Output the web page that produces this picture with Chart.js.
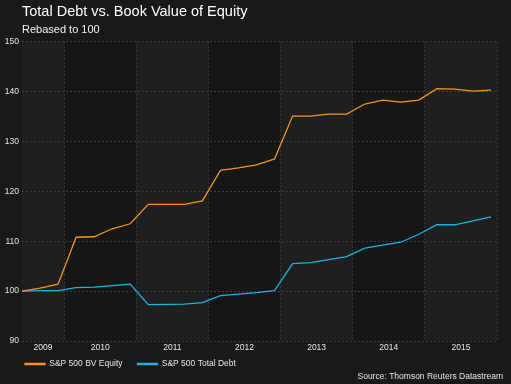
<!DOCTYPE html>
<html>
<head>
<meta charset="utf-8">
<script src="https://cdn.jsdelivr.net/npm/chart.js@4.4.1/dist/chart.umd.min.js"></script>
<style>
  html, body { margin: 0; padding: 0; background: #191919; }
  #wrap { width: 511px; height: 384px; }
</style>
</head>
<body>
<div id="wrap"><canvas id="myChart" width="511" height="384"></canvas></div>
<script>
// quarterly observations, Jun 2009 .. Dec 2015
const dates = [
  '2009-06', '2009-09', '2009-12',
  '2010-03', '2010-06', '2010-09', '2010-12',
  '2011-03', '2011-06', '2011-09', '2011-12',
  '2012-03', '2012-06', '2012-09', '2012-12',
  '2013-03', '2013-06', '2013-09', '2013-12',
  '2014-03', '2014-06', '2014-09', '2014-12',
  '2015-03', '2015-06', '2015-09', '2015-12'
];
const bvEquity = [
  100.0, 100.6, 101.4,
  110.8, 110.9, 112.5, 113.5,
  117.4, 117.4, 117.4, 118.1,
  124.2, 124.7, 125.3, 126.5,
  135.1, 135.1, 135.5, 135.5,
  137.5, 138.3, 137.9, 138.3,
  140.6, 140.5, 140.1, 140.3
];
const totalDebt = [
  100.0, 100.1, 100.1,
  100.7, 100.8, 101.1, 101.4,
  97.3, 97.35, 97.4, 97.7,
  99.1, 99.4, 99.7, 100.1,
  105.5, 105.7, 106.3, 106.9,
  108.6, 109.2, 109.8, 111.4,
  113.3, 113.3, 114.1, 114.9
];
const yearLabels = ['2009', '2010', '2011', '2012', '2013', '2014', '2015'];
const yTicks = [90, 100, 110, 120, 130, 140, 150];

const toYear = (d) => {
  const [y, m] = d.split('-').map(Number);
  return y + (m - 1) / 12;
};
const xs = dates.map(toYear);
const xMin = xs[0];
const xMax = 2016;

const FONT = 'Liberation Sans, Arial, sans-serif';
const ORANGE = '#f39519';
const BLUE = '#1bb4e2';

const bgPlugin = {
  id: 'bands',
  afterLayout(chart) {
    // legend sits right under the year labels
    chart.legend.left = 10;
    chart.legend.top = 344.75;
  },
  beforeDraw(chart) {
    const { ctx, chartArea } = chart;
    const xg = chart.scales.xg;
    ctx.save();
    ctx.fillStyle = '#191919';
    ctx.fillRect(0, 0, chart.width, chart.height);
    yearLabels.forEach((lab, i) => {
      const y0 = Math.max(Number(lab), xMin);
      const x0 = xg.getPixelForValue(y0);
      const x1 = xg.getPixelForValue(Number(lab) + 1);
      ctx.fillStyle = i % 2 === 0 ? '#1f1f1f' : '#161616';
      ctx.fillRect(x0, chartArea.top, x1 - x0, chartArea.bottom - chartArea.top);
    });
    ctx.restore();
  },
  afterDraw(chart) {
    const { ctx } = chart;
    ctx.save();
    ctx.font = '8.5px ' + FONT;
    ctx.fillStyle = '#e6e6e6';
    ctx.textAlign = 'right';
    ctx.textBaseline = 'middle';
    ctx.fillText('Source: Thomson Reuters Datastream', 503, 377);
    ctx.restore();
  }
};

new Chart(document.getElementById('myChart'), {
  type: 'line',
  data: {
    datasets: [{
      label: 'S&P 500 BV Equity',
      data: xs.map((x, i) => ({ x, y: bvEquity[i] })),
      borderColor: ORANGE,
      backgroundColor: ORANGE,
      borderWidth: 1.3,
      pointRadius: 0,
      tension: 0
    }, {
      label: 'S&P 500 Total Debt',
      data: xs.map((x, i) => ({ x, y: totalDebt[i] })),
      borderColor: BLUE,
      backgroundColor: BLUE,
      borderWidth: 1.3,
      pointRadius: 0,
      tension: 0
    }]
  },
  options: {
    responsive: false,
    animation: false,
    devicePixelRatio: 1,
    layout: { padding: { left: 0, right: 14, top: 0, bottom: 10 } },
    plugins: {
      title: {
        display: true,
        text: 'Total Debt vs. Book Value of Equity',
        align: 'start',
        fullSize: false,
        color: '#ffffff',
        font: { family: FONT, size: 14.5, weight: 'normal' },
        padding: { top: 3.5, bottom: 0 }
      },
      subtitle: {
        display: true,
        text: 'Rebased to 100',
        align: 'start',
        fullSize: false,
        color: '#f2f2f2',
        font: { family: FONT, size: 11 },
        padding: { top: 2.7, bottom: 4.9 }
      },
      legend: {
        position: 'bottom',
        align: 'start',
        maxHeight: 20,
        labels: {
          boxWidth: 20,
          boxHeight: 1,
          padding: 15,
          color: '#e6e6e6',
          font: { family: FONT, size: 8.5 }
        }
      },
      tooltip: { enabled: false }
    },
    scales: {
      xg: {
        type: 'linear',
        position: 'bottom',
        min: xMin,
        max: xMax,
        afterBuildTicks: (s) => { s.ticks = [2010, 2011, 2012, 2013, 2014, 2015, 2016].map(v => ({ value: v })); },
        afterFit: (s) => { s.height = 0; },
        ticks: { display: false },
        grid: { color: '#3a3a3a', lineWidth: 1, drawTicks: false },
        border: { display: false, dash: [2, 2] }
      },
      x: {
        type: 'linear',
        position: 'bottom',
        min: xMin,
        max: xMax,
        afterBuildTicks: (s) => {
          s.ticks = yearLabels.map((lab, i) => ({
            value: i === 0 ? (xMin + 2010) / 2 : Number(lab) + 0.5
          }));
        },
        afterFit: (s) => { s.height = 13; },
        ticks: {
          color: '#e6e6e6',
          font: { family: FONT, size: 8.5 },
          padding: 1.7,
          maxRotation: 0,
          autoSkip: false,
          callback: (v) => String(Math.floor(v))
        },
        grid: { display: false, drawTicks: false },
        border: { display: false }
      },
      y: {
        min: 90,
        max: 150,
        afterBuildTicks: (s) => { s.ticks = yTicks.map(v => ({ value: v })); },
        afterFit: (s) => { s.width = 22; },
        ticks: {
          color: '#e6e6e6',
          font: { family: FONT, size: 8.5 },
          padding: 3
        },
        grid: { color: '#3a3a3a', lineWidth: 1, drawTicks: false },
        border: { display: false, dash: [2, 2] }
      }
    }
  },
  plugins: [bgPlugin]
});
</script>
</body>
</html>
